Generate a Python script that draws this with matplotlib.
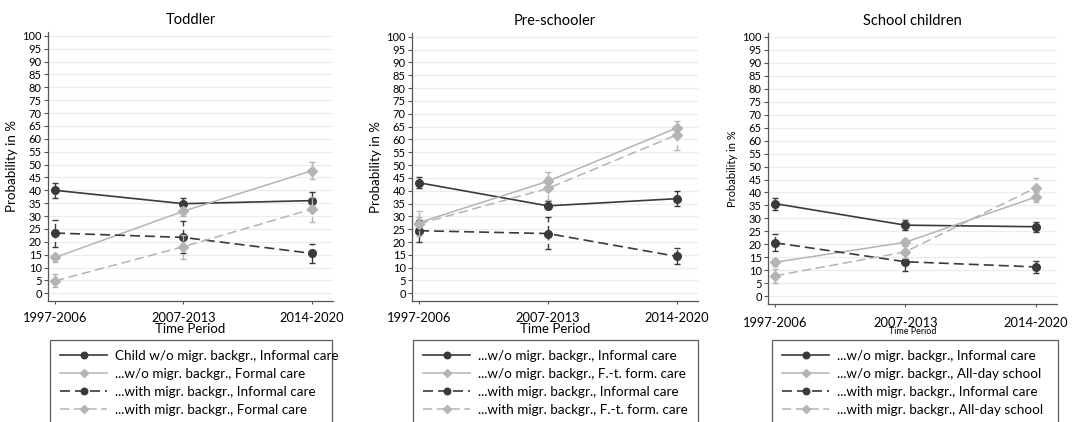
import matplotlib
matplotlib.use("Agg")
import matplotlib.pyplot as plt
from matplotlib import font_manager

# ---------------- data ----------------
periods = ["1997-2006", "2007-2013", "2014-2020"]
titles = ["Toddler", "Pre-schooler", "School children"]

# series order: w/o informal, w/o formal, with informal, with formal
toddler_est = [[40.0, 34.8, 36.0], [13.9, 31.9, 47.6], [23.4, 21.7, 15.5], [4.8, 18.1, 32.7]]
toddler_lo = [[36.9, 32.3, 33.7], [12.3, 30.1, 44.4], [18.1, 15.8, 11.9], [2.3, 13.4, 27.8]]
toddler_hi = [[42.9, 37.0, 39.3], [15.3, 33.6, 50.9], [28.6, 27.9, 19.1], [7.5, 22.5, 37.5]]

preschool_est = [[43.1, 34.1, 36.9], [27.6, 43.7, 64.5], [24.4, 23.3, 14.4], [27.1, 40.9, 61.8]]
preschool_lo = [[41.0, 32.8, 33.9], [26.0, 40.5, 61.5], [20.2, 17.4, 11.3], [22.5, 36.4, 56.0]]
preschool_hi = [[45.4, 36.0, 39.8], [29.9, 47.2, 67.3], [28.5, 29.7, 17.5], [32.0, 45.5, 65.0]]

school_est = [[35.7, 27.4, 26.8], [13.1, 20.8, 38.2], [20.6, 13.3, 11.3], [7.9, 17.1, 41.8]]
school_lo = [[33.4, 25.6, 24.7], [11.6, 19.4, 36.2], [17.3, 9.8, 9.0], [5.2, 14.6, 38.0]]
school_hi = [[38.0, 29.4, 28.8], [14.5, 22.1, 40.0], [23.8, 16.2, 13.6], [10.4, 19.6, 45.7]]

toddler_labels = ["Child w/o migr. backgr., Informal care", "...w/o migr. backgr., Formal care",
                  "...with migr. backgr., Informal care", "...with migr. backgr., Formal care"]
preschool_labels = ["...w/o migr. backgr., Informal care", "...w/o migr. backgr., F.-t. form. care",
                    "...with migr. backgr., Informal care", "...with migr. backgr., F.-t. form. care"]
school_labels = ["...w/o migr. backgr., Informal care", "...w/o migr. backgr., All-day school",
                 "...with migr. backgr., Informal care", "...with migr. backgr., All-day school"]

yticks = list(range(0, 101, 5))

# ---------------- style ----------------
avail = {f.name for f in font_manager.fontManager.ttflist}
main_font = "Lato" if "Lato" in avail else "DejaVu Sans"
plt.rcParams["font.family"] = [main_font, "DejaVu Sans"]

DARK = "#3a3a3a"
LIGHT = "#b4b4b4"
series_style = [
    dict(color=DARK, marker="o", ls="-", ms=5.5, lw=1.2),
    dict(color=LIGHT, marker="D", ls="-", ms=5, lw=1.1),
    dict(color=DARK, marker="o", ls=(0, (6, 3)), ms=5.5, lw=1.2),
    dict(color=LIGHT, marker="D", ls=(0, (6, 3)), ms=5, lw=1.1),
]

W, H = 1074, 422
fig = plt.figure(figsize=(W / 100, H / 100), dpi=100)

# axes boxes in pixels: left, top, right, bottom
boxes = [(48, 32, 333, 301), (412, 33, 698, 301), (768, 33, 1057, 304)]
legboxes = [(50, 344, 332), (413, 344, 698), (772, 344, 1058)]
panels = [
    (toddler_est, toddler_lo, toddler_hi, toddler_labels),
    (preschool_est, preschool_lo, preschool_hi, preschool_labels),
    (school_est, school_lo, school_hi, school_labels),
]

x = list(range(len(periods)))
for i, (est, lo, hi, labels) in enumerate(panels):
    l, t, r, b = boxes[i]
    ax = fig.add_axes([l / W, 1 - b / H, (r - l) / W, (b - t) / H])
    handles = []
    for k in range(4):
        st = series_style[k]
        yerr = [[e - lw_ for e, lw_ in zip(est[k], lo[k])], [h - e for e, h in zip(est[k], hi[k])]]
        cont = ax.errorbar(x, est[k], yerr=yerr, color=st["color"], ls=st["ls"], lw=st["lw"],
                           marker=st["marker"], ms=st["ms"], mec=st["color"], mfc=st["color"],
                           capsize=2.0, elinewidth=1.0, capthick=1.0, zorder=3 + k)
        if k >= 2:
            for bl in cont[2]:
                bl.set_linestyle((0, (4, 2.5)))
        (h,) = ax.plot([], [], color=st["color"], ls=st["ls"], lw=st["lw"], marker=st["marker"],
                       ms=st["ms"] - 0.8, mec=st["color"], mfc=st["color"])
        handles.append(h)

    ax.set_xlim(-0.055, 2.165)
    ax.set_ylim(-3, 101.5)
    ax.set_yticks(yticks)
    ax.set_xticks(x)
    ax.set_xticklabels(periods)
    ax.yaxis.grid(True, color="#ececec", lw=0.9)
    ax.set_axisbelow(True)
    for s in ["top", "right"]:
        ax.spines[s].set_visible(False)
    for s in ["left", "bottom"]:
        ax.spines[s].set_color("#555555")
        ax.spines[s].set_linewidth(0.9)
    ax.tick_params(axis="y", labelsize=8, length=3, width=0.8, color="#555555", pad=1.5)
    small = i == 2
    ax.tick_params(axis="x", labelsize=9.3, length=2.5, width=0.8, color="#555555",
                   pad=7 if small else 5.5)
    ax.set_title(titles[i], fontsize=10.5, pad=6)
    ax.set_ylabel("Probability in %", fontsize=8 if small else 9.6, labelpad=3)
    ax.set_xlabel("Time Period", fontsize=6.5 if small else 9.5, labelpad=-1.5 if small else -1)

    lx0, ly0, lx1 = legboxes[i]
    leg = fig.legend(handles, labels, loc="upper left",
                     bbox_to_anchor=(lx0 / W, 1 - ly0 / H, (lx1 - lx0) / W, 0.01),
                     mode="expand", frameon=True, fancybox=False, handlelength=3.5,
                     handletextpad=0.55, labelspacing=0.45, borderpad=0.75, borderaxespad=0,
                     prop={"size": 9.7})
    leg.get_frame().set_edgecolor("#333333")
    leg.get_frame().set_linewidth(0.9)

fig.savefig("out.png", dpi=100, facecolor="white")
